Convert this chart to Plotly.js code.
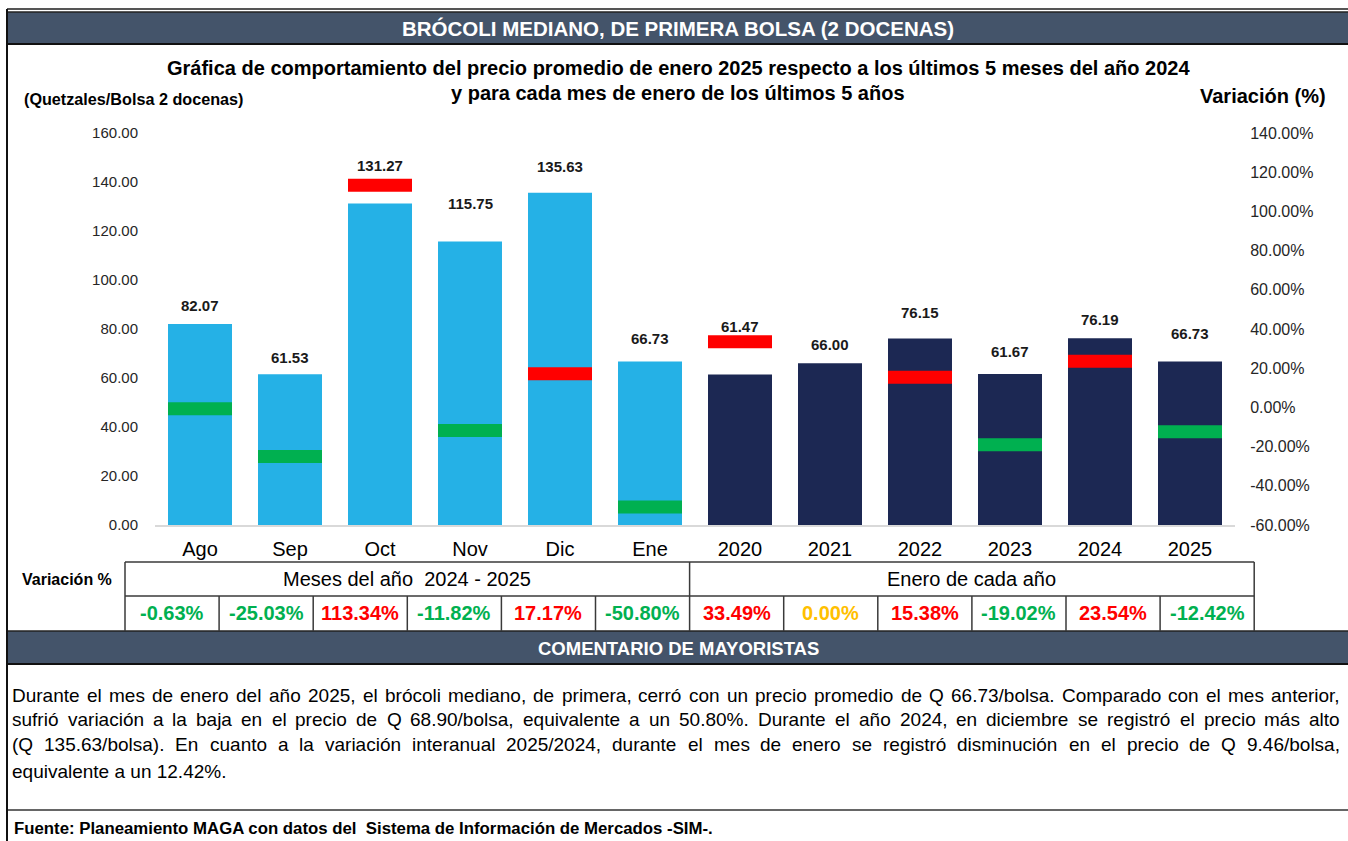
<!DOCTYPE html>
<html>
<head>
<meta charset="utf-8">
<script src="https://cdn.plot.ly/plotly-3.0.1.min.js"></script>
<style>
  html, body { margin: 0; padding: 0; background: #fff; }
  #plot { width: 1348px; height: 841px; }
</style>
</head>
<body>
<div id="plot"></div>
<script>
// ---------------------------------------------------------------------------
// data

const categories = ['Ago', 'Sep', 'Oct', 'Nov', 'Dic', 'Ene',
                    '2020', '2021', '2022', '2023', '2024', '2025'];
const prices = [82.07, 61.53, 131.27, 115.75, 135.63, 66.73,
                61.47, 66.00, 76.15, 61.67, 76.19, 66.73];
const variations = [-0.63, -25.03, 113.34, -11.82, 17.17, -50.80,
                    33.49, 0.00, 15.38, -19.02, 23.54, -12.42];
const priceTicks = [0, 20, 40, 60, 80, 100, 120, 140, 160];
const variationTicks = [-60, -40, -20, 0, 20, 40, 60, 80, 100, 120, 140];

const headerText = 'BRÓCOLI MEDIANO, DE PRIMERA BOLSA (2 DOCENAS)';
const titleLines = [
  'Gráfica de comportamiento del precio promedio de enero 2025 respecto a los últimos 5 meses del año 2024',
  'y para cada mes de enero de los últimos 5 años'
];
const groupLabels = ['Meses del año\u00a0 2024 - 2025', 'Enero de cada año'];
const commentLines = [
  'Durante el mes de enero del año 2025, el brócoli mediano, de primera, cerró con un precio promedio de Q 66.73/bolsa. Comparado con el mes anterior,',
  'sufrió variación a la baja en el precio de Q 68.90/bolsa, equivalente a un 50.80%. Durante el año 2024, en diciembre se registró el precio más alto',
  '(Q 135.63/bolsa). En cuanto a la variación interanual 2025/2024, durante el mes de enero se registró disminución en el precio de Q 9.46/bolsa,',
  'equivalente a un 12.42%.'
];
const sourceText = 'Fuente: Planeamiento MAGA con datos del\u00a0 Sistema de Información de Mercados -SIM-.';

// how far (px) each value label sits above its bar, as placed in the original
const labelLift = [18, 17, 38, 38, 26, 23, 48, 19, 26, 22, 19, 28];

//------------------------------------------------------------------------------

const FONT = '"Liberation Sans", Arial, sans-serif';
const SLATE = '#44546A';
const LIGHT = '#25B1E6', NAVY = '#1C2853';
const GREEN = '#00B050', RED = '#FF0000', AMBER = '#FFC000';

const W = 1348, H = 841, L = 155, R = 1235, T = 133, B = 525;
const px = x => (x - L) / (R - L);
const py = y => (B - y) / (B - T);

function signColor(v) {
  return v < 0 ? GREEN : (v > 0 ? RED : AMBER);
}

const idx = categories.map((c, i) => i);
const BAR_W = 0.711;
// line-ew draws a stroke 1.4x its size; match it to the bar width (90 px per category)
const markerSize = BAR_W * (R - L) / categories.length / 1.4;

const barTrace = {
  type: 'bar',
  x: idx,
  y: prices,
  width: BAR_W,
  marker: { color: idx.map(i => i < 6 ? LIGHT : NAVY) },
  hoverinfo: 'skip'
};

const markerTrace = {
  type: 'scatter',
  mode: 'markers',
  x: idx,
  y: variations,
  yaxis: 'y2',
  cliponaxis: false,
  marker: {
    symbol: 'line-ew',
    size: markerSize,
    line: { width: 13, color: variations.map(v => v === 0 ? 'rgba(0,0,0,0)' : signColor(v)) }
  },
  hoverinfo: 'skip'
};

const annotations = [];
const shapes = [];

function text(x, y, t, opts = {}) {
  annotations.push(Object.assign({
    xref: 'paper', yref: 'paper', x: px(x), y: py(y), text: t,
    showarrow: false, xanchor: 'center', yanchor: 'middle',
    font: { family: FONT, size: 18, color: '#000' }
  }, opts));
}
function line(x0, y0, x1, y1, color = '#3a3a3a', width = 1.5) {
  shapes.push({ type: 'line', xref: 'paper', yref: 'paper',
    x0: px(x0), y0: py(y0), x1: px(x1), y1: py(y1),
    line: { color, width } });
}
function band(y0, y1) {
  shapes.push({ type: 'rect', xref: 'paper', yref: 'paper',
    x0: px(8), x1: px(W), y0: py(y0), y1: py(y1),
    fillcolor: SLATE, line: { width: 0 }, layer: 'below' });
  line(8, y0, W, y0, '#222', 1.5);
  line(8, y1, W, y1, '#111', 2);
}

// value labels above bars
prices.forEach((p, i) => {
  annotations.push({
    xref: 'x', yref: 'y', x: i, y: p, yshift: labelLift[i],
    text: p.toFixed(2), showarrow: false, yanchor: 'middle',
    font: { family: FONT, size: 15, weight: 'bold', color: '#1a1a1a' }
  });
});

// frame and header bands
line(7, 9, W, 9, '#555', 2);
line(7, 9, 7, H, '#111', 2);
band(12, 44);
band(631, 664);
line(8, 810, W, 810, '#333', 1.5);

text(678, 28, headerText, { font: { family: FONT, size: 20.5, weight: 'bold', color: '#fff' } });
text(678, 68, titleLines[0], { font: { family: FONT, size: 20, weight: 'bold', color: '#000' } });
text(678, 93, titleLines[1], { font: { family: FONT, size: 20, weight: 'bold', color: '#000' } });
text(22, 99, '(Quetzales/Bolsa 2 docenas)', { xanchor: 'left',
  font: { family: FONT, size: 16.2, weight: 'bold', color: '#000' } });
text(1328, 96, 'Variación (%)', { xanchor: 'right',
  font: { family: FONT, size: 20, weight: 'bold', color: '#000' } });

// variation table
const tLeft = 125, cellW = 94.1, tTop = 562, tMid = 596, tBot = 631;
const tRight = tLeft + cellW * 12;
const tSplit = tLeft + cellW * 6;
line(tLeft, tTop, tRight, tTop);
line(tLeft, tMid, tRight, tMid);
line(tLeft, tTop, tLeft, tBot);
line(tSplit, tTop, tSplit, tBot);
line(tRight, tTop, tRight, tBot);
for (let k = 1; k < 12; k++) {
  if (k !== 6) line(tLeft + cellW * k, tMid, tLeft + cellW * k, tBot);
}
text(20, 579, 'Variación %', { xanchor: 'left', font: { family: FONT, size: 16, weight: 'bold', color: '#000' } });
text((tLeft + tSplit) / 2, 579, groupLabels[0], { font: { family: FONT, size: 20, color: '#000' } });
text((tSplit + tRight) / 2, 579, groupLabels[1], { font: { family: FONT, size: 20, color: '#000' } });
variations.forEach((v, i) => {
  text(tLeft + cellW * (i + 0.5), 613, v.toFixed(2) + '%',
    { font: { family: FONT, size: 20, weight: 'bold', color: signColor(v) } });
});

text(678, 648, 'COMENTARIO DE MAYORISTAS', { font: { family: FONT, size: 18.5, weight: 'bold', color: '#fff' } });

// justified comment paragraph, word by word
const PARA = 19;
const ctx = document.createElement('canvas').getContext('2d');
ctx.font = PARA + 'px ' + FONT;
const paraLeft = 12, paraRight = 1340, lineY = [695, 719, 744, 771];
commentLines.forEach((ln, li) => {
  if (li === commentLines.length - 1) {
    text(paraLeft - 1, lineY[li], ln, { xanchor: 'left', borderpad: 0, font: { family: FONT, size: PARA, color: '#000' } });
    return;
  }
  const words = ln.split(' ');
  const widths = words.map(w => ctx.measureText(w).width);
  const gap = (paraRight - paraLeft - widths.reduce((a, b) => a + b, 0)) / (words.length - 1);
  let x = paraLeft;
  words.forEach((w, wi) => {
    text(x - 1, lineY[li], w, { xanchor: 'left', borderpad: 0, font: { family: FONT, size: PARA, color: '#000' } });
    x += widths[wi] + gap;
  });
});

text(12, 828, sourceText, { xanchor: 'left', font: { family: FONT, size: 16.8, weight: 'bold', color: '#000' } });

const layout = {
  width: W, height: H,
  margin: { l: L, r: W - R, t: T, b: H - B, pad: 0 },
  paper_bgcolor: '#fff', plot_bgcolor: '#fff',
  showlegend: false,
  font: { family: FONT, color: '#000' },
  xaxis: {
    range: [-0.5, 11.5],
    tickvals: idx, ticktext: categories,
    showgrid: false, zeroline: false,
    showline: true, linecolor: '#d9d9d9', linewidth: 1.5,
    ticks: 'outside', ticklen: 5, tickcolor: 'rgba(0,0,0,0)',
    tickfont: { family: FONT, size: 20, color: '#000' },
    fixedrange: true
  },
  yaxis: {
    range: [0, 160],
    tickvals: priceTicks, ticktext: priceTicks.map(v => v.toFixed(2)),
    showgrid: false, zeroline: false, showline: false,
    ticks: 'outside', ticklen: 13, tickcolor: 'rgba(0,0,0,0)',
    tickfont: { family: FONT, size: 15, color: '#262626' },
    fixedrange: true
  },
  yaxis2: {
    overlaying: 'y', side: 'right',
    range: [-60, 140],
    tickvals: variationTicks, ticktext: variationTicks.map(v => v.toFixed(2) + '%'),
    showgrid: false, zeroline: false, showline: false,
    ticks: 'outside', ticklen: 11, tickcolor: 'rgba(0,0,0,0)',
    tickfont: { family: FONT, size: 16, color: '#262626' },
    fixedrange: true
  },
  annotations,
  shapes
};

Plotly.newPlot('plot', [barTrace, markerTrace], layout, { displayModeBar: false, staticPlot: true });
</script>
</body>
</html>
